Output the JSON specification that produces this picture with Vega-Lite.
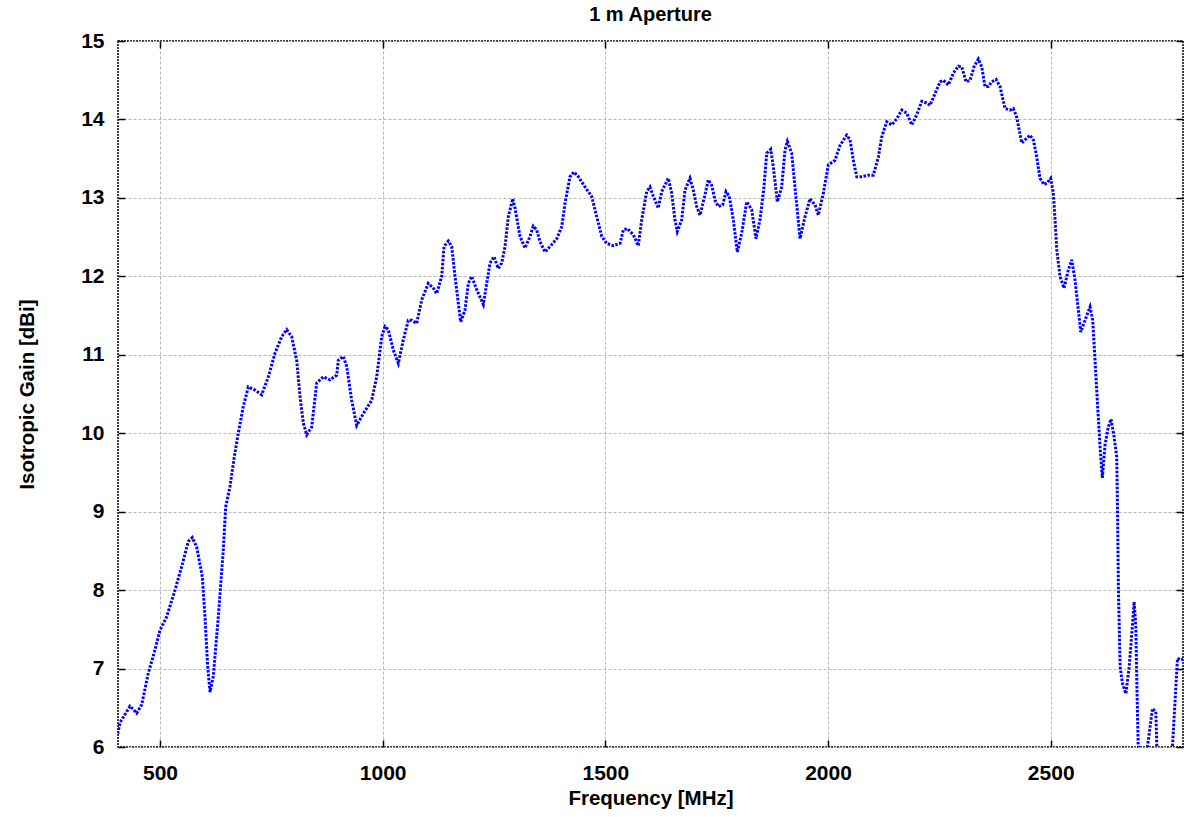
{
  "$schema": "https://vega.github.io/schema/vega-lite/v6.json",
  "width": 1065,
  "height": 706,
  "autosize": "none",
  "padding": {"left": 118, "top": 41, "right": 1, "bottom": 70},
  "background": "white",
  "title": {"text": "1 m Aperture", "font": "Liberation Sans", "fontSize": 20, "fontWeight": "bold", "color": "black", "offset": 5, "anchor": "middle", "frame": "group"},
  "config": {
    "view": {"stroke": "black", "strokeWidth": 1.5, "strokeDash": [2, 1]},
    "axis": {
      "labelFont": "Liberation Sans", "labelFontSize": 21, "labelFontWeight": "bold", "labelColor": "black",
      "titleFont": "Liberation Sans", "titleFontSize": 20.5, "titleFontWeight": "bold", "titleColor": "black",
      "domain": false, "tickColor": "black", "tickSize": -7, "tickWidth": 1.5,
      "gridColor": "#b8b8b8", "gridDash": [3, 2], "gridWidth": 1
    }
  },
  "data": {"values": [
    {"f": 405, "g": 6.17}, {"f": 410.2, "g": 6.31}, {"f": 432.6, "g": 6.52}, {"f": 440.0, "g": 6.48}, {"f": 447.7, "g": 6.43},
    {"f": 458.9, "g": 6.54}, {"f": 473.7, "g": 6.94}, {"f": 488.8, "g": 7.24}, {"f": 500, "g": 7.49}, {"f": 515.0, "g": 7.66},
    {"f": 533.7, "g": 8.0}, {"f": 548.7, "g": 8.30}, {"f": 563.5, "g": 8.62}, {"f": 572.5, "g": 8.67}, {"f": 582.4, "g": 8.55},
    {"f": 595.0, "g": 8.17}, {"f": 601.0, "g": 7.66}, {"f": 607.1, "g": 7.02}, {"f": 612.3, "g": 6.70}, {"f": 619.7, "g": 6.90},
    {"f": 630.9, "g": 7.66}, {"f": 642.1, "g": 8.51}, {"f": 647.5, "g": 9.06}, {"f": 657.2, "g": 9.32}, {"f": 666.8, "g": 9.70},
    {"f": 675.8, "g": 10.0}, {"f": 687.0, "g": 10.34}, {"f": 698.3, "g": 10.59}, {"f": 713.3, "g": 10.55}, {"f": 728.4, "g": 10.49},
    {"f": 743.2, "g": 10.72}, {"f": 758.2, "g": 11.02}, {"f": 773.3, "g": 11.23}, {"f": 784.5, "g": 11.32}, {"f": 795.7, "g": 11.23},
    {"f": 807.0, "g": 10.93}, {"f": 814.4, "g": 10.47}, {"f": 821.8, "g": 10.13}, {"f": 829.4, "g": 9.98}, {"f": 840.6, "g": 10.08},
    {"f": 851.9, "g": 10.64}, {"f": 866.7, "g": 10.72}, {"f": 881.7, "g": 10.68}, {"f": 896.8, "g": 10.74}, {"f": 900.4, "g": 10.93},
    {"f": 911.6, "g": 10.98}, {"f": 919.2, "g": 10.85}, {"f": 930.4, "g": 10.42}, {"f": 941.7, "g": 10.10}, {"f": 956.5, "g": 10.25},
    {"f": 975.4, "g": 10.42}, {"f": 986.6, "g": 10.72}, {"f": 997.8, "g": 11.23}, {"f": 1005.2, "g": 11.36}, {"f": 1012.6, "g": 11.32},
    {"f": 1023.9, "g": 11.06}, {"f": 1035.1, "g": 10.89}, {"f": 1046.3, "g": 11.19}, {"f": 1057.5, "g": 11.44}, {"f": 1065.2, "g": 11.44},
    {"f": 1076.4, "g": 11.40}, {"f": 1087.6, "g": 11.70}, {"f": 1102.4, "g": 11.91}, {"f": 1113.7, "g": 11.85}, {"f": 1121.3, "g": 11.78},
    {"f": 1132.5, "g": 12.0}, {"f": 1137.7, "g": 12.38}, {"f": 1147.3, "g": 12.45}, {"f": 1155.0, "g": 12.38}, {"f": 1162.4, "g": 12.0},
    {"f": 1169.8, "g": 11.66}, {"f": 1175.2, "g": 11.42}, {"f": 1184.8, "g": 11.57}, {"f": 1192.3, "g": 11.91}, {"f": 1199.9, "g": 12.0},
    {"f": 1211.1, "g": 11.83}, {"f": 1226.0, "g": 11.64}, {"f": 1233.6, "g": 11.91}, {"f": 1241.0, "g": 12.17}, {"f": 1250.0, "g": 12.25},
    {"f": 1259.6, "g": 12.10}, {"f": 1267.3, "g": 12.17}, {"f": 1274.7, "g": 12.38}, {"f": 1282.1, "g": 12.76}, {"f": 1292.0, "g": 12.99},
    {"f": 1297.1, "g": 12.87}, {"f": 1308.3, "g": 12.51}, {"f": 1319.6, "g": 12.36}, {"f": 1330.8, "g": 12.51}, {"f": 1338.2, "g": 12.64},
    {"f": 1345.9, "g": 12.59}, {"f": 1353.3, "g": 12.44}, {"f": 1364.5, "g": 12.31}, {"f": 1375.7, "g": 12.38}, {"f": 1390.8, "g": 12.48},
    {"f": 1402.0, "g": 12.63}, {"f": 1409.4, "g": 12.93}, {"f": 1420.6, "g": 13.27}, {"f": 1429.6, "g": 13.33}, {"f": 1439.3, "g": 13.27},
    {"f": 1454.3, "g": 13.14}, {"f": 1469.3, "g": 13.02}, {"f": 1480.6, "g": 12.76}, {"f": 1491.8, "g": 12.51}, {"f": 1503.0, "g": 12.42},
    {"f": 1517.8, "g": 12.39}, {"f": 1532.9, "g": 12.42}, {"f": 1540.3, "g": 12.59}, {"f": 1549.3, "g": 12.61}, {"f": 1562.8, "g": 12.53},
    {"f": 1574.0, "g": 12.39}, {"f": 1581.6, "g": 12.72}, {"f": 1592.8, "g": 13.08}, {"f": 1600.2, "g": 13.14}, {"f": 1607.7, "g": 13.02},
    {"f": 1618.9, "g": 12.87}, {"f": 1626.5, "g": 13.08}, {"f": 1641.3, "g": 13.25}, {"f": 1648.9, "g": 13.06}, {"f": 1656.3, "g": 12.72},
    {"f": 1661.5, "g": 12.57}, {"f": 1671.4, "g": 12.72}, {"f": 1678.8, "g": 13.10}, {"f": 1690.0, "g": 13.25}, {"f": 1697.5, "g": 13.10},
    {"f": 1705.1, "g": 12.89}, {"f": 1712.5, "g": 12.78}, {"f": 1723.7, "g": 13.04}, {"f": 1731.1, "g": 13.23}, {"f": 1738.8, "g": 13.16},
    {"f": 1746.2, "g": 12.97}, {"f": 1753.6, "g": 12.89}, {"f": 1763.5, "g": 12.91}, {"f": 1770.9, "g": 13.08}, {"f": 1778.3, "g": 13.02},
    {"f": 1787.3, "g": 12.72}, {"f": 1796.3, "g": 12.31}, {"f": 1806.1, "g": 12.55}, {"f": 1817.4, "g": 12.95}, {"f": 1828.6, "g": 12.85},
    {"f": 1838.2, "g": 12.48}, {"f": 1847.2, "g": 12.72}, {"f": 1856.2, "g": 13.14}, {"f": 1862.3, "g": 13.57}, {"f": 1871.3, "g": 13.62},
    {"f": 1877.1, "g": 13.40}, {"f": 1886.1, "g": 12.95}, {"f": 1896.0, "g": 13.14}, {"f": 1903.4, "g": 13.61}, {"f": 1908.6, "g": 13.72},
    {"f": 1918.4, "g": 13.57}, {"f": 1925.8, "g": 13.14}, {"f": 1937.1, "g": 12.48}, {"f": 1948.3, "g": 12.76}, {"f": 1959.5, "g": 12.99},
    {"f": 1970.8, "g": 12.91}, {"f": 1978.2, "g": 12.78}, {"f": 1989.4, "g": 13.06}, {"f": 2000.6, "g": 13.42}, {"f": 2015.7, "g": 13.48},
    {"f": 2026.9, "g": 13.67}, {"f": 2042.0, "g": 13.80}, {"f": 2049.4, "g": 13.74}, {"f": 2056.8, "g": 13.48}, {"f": 2064.5, "g": 13.27},
    {"f": 2075.7, "g": 13.27}, {"f": 2090.5, "g": 13.29}, {"f": 2101.7, "g": 13.29}, {"f": 2113.0, "g": 13.52}, {"f": 2120.6, "g": 13.78},
    {"f": 2131.8, "g": 13.97}, {"f": 2143.1, "g": 13.93}, {"f": 2154.3, "g": 14.01}, {"f": 2165.5, "g": 14.12}, {"f": 2176.7, "g": 14.08},
    {"f": 2188.0, "g": 13.93}, {"f": 2199.2, "g": 14.06}, {"f": 2210.4, "g": 14.23}, {"f": 2221.6, "g": 14.21}, {"f": 2229.0, "g": 14.18},
    {"f": 2240.3, "g": 14.33}, {"f": 2251.5, "g": 14.48}, {"f": 2258.9, "g": 14.50}, {"f": 2270.1, "g": 14.44}, {"f": 2281.4, "g": 14.59},
    {"f": 2292.6, "g": 14.68}, {"f": 2300.2, "g": 14.67}, {"f": 2309.9, "g": 14.48}, {"f": 2318.9, "g": 14.50}, {"f": 2327.8, "g": 14.67},
    {"f": 2337.5, "g": 14.77}, {"f": 2345.1, "g": 14.67}, {"f": 2352.5, "g": 14.42}, {"f": 2359.9, "g": 14.42}, {"f": 2367.6, "g": 14.48},
    {"f": 2377.2, "g": 14.51}, {"f": 2386.1, "g": 14.42}, {"f": 2397.4, "g": 14.14}, {"f": 2408.6, "g": 14.12}, {"f": 2416.0, "g": 14.14},
    {"f": 2423.7, "g": 14.03}, {"f": 2434.9, "g": 13.70}, {"f": 2442.3, "g": 13.74}, {"f": 2453.5, "g": 13.80}, {"f": 2461.0, "g": 13.74},
    {"f": 2468.6, "g": 13.52}, {"f": 2475.9, "g": 13.25}, {"f": 2484.9, "g": 13.17}, {"f": 2491.6, "g": 13.19}, {"f": 2500, "g": 13.25},
    {"f": 2505.8, "g": 13.06}, {"f": 2509.7, "g": 12.72}, {"f": 2513.5, "g": 12.34}, {"f": 2520.9, "g": 12.0}, {"f": 2529.9, "g": 11.85},
    {"f": 2539.5, "g": 12.08}, {"f": 2547.2, "g": 12.21}, {"f": 2554.6, "g": 11.95}, {"f": 2562.0, "g": 11.57}, {"f": 2567.4, "g": 11.29},
    {"f": 2577.0, "g": 11.44}, {"f": 2588.3, "g": 11.61}, {"f": 2594.3, "g": 11.44}, {"f": 2599.5, "g": 10.93}, {"f": 2604.6, "g": 10.42},
    {"f": 2610.7, "g": 9.83}, {"f": 2615.9, "g": 9.43}, {"f": 2621.9, "g": 9.85}, {"f": 2629.3, "g": 10.08}, {"f": 2635.4, "g": 10.18},
    {"f": 2642.1, "g": 9.96}, {"f": 2648.2, "g": 9.70}, {"f": 2650.3, "g": 8.9}, {"f": 2652.0, "g": 8.0}, {"f": 2655.9, "g": 7.02},
    {"f": 2661.0, "g": 6.81}, {"f": 2668.7, "g": 6.68}, {"f": 2676.1, "g": 7.02}, {"f": 2682.1, "g": 7.45}, {"f": 2687.3, "g": 7.85},
    {"f": 2691.1, "g": 7.53}, {"f": 2693.4, "g": 6.81}, {"f": 2696.3, "g": 6.04}, {"f": 2705.3, "g": 5.6}, {"f": 2717.2, "g": 6.0},
    {"f": 2728.4, "g": 6.49}, {"f": 2736.0, "g": 6.45}, {"f": 2738.3, "g": 6.0}, {"f": 2754.7, "g": 5.5}, {"f": 2773.3, "g": 6.0},
    {"f": 2784.6, "g": 7.13}, {"f": 2792.2, "g": 7.11}, {"f": 2797.3, "g": 7.12}
  ]},
  "layer": [
    {
      "mark": {"type": "line", "color": "#0000ff", "strokeWidth": 3, "strokeDash": [2.5, 1.5], "clip": true},
      "encoding": {
        "x": {"field": "f", "type": "quantitative", "scale": {"domain": [405.7, 2797], "nice": false, "zero": false},
              "axis": {"title": "Frequency [MHz]", "format": "d", "values": [500, 1000, 1500, 2000, 2500], "labelPadding": 22, "titlePadding": 5}},
        "y": {"field": "g", "type": "quantitative", "scale": {"domain": [6, 15], "nice": false, "zero": false},
              "axis": {"title": "Isotropic Gain [dBi]", "format": "d", "values": [6, 7, 8, 9, 10, 11, 12, 13, 14, 15], "labelPadding": 21, "titlePadding": 43}}
      }
    },
    {
      "mark": {"type": "line", "opacity": 0},
      "encoding": {
        "x": {"field": "f", "type": "quantitative", "axis": {"orient": "top", "labels": false, "grid": false, "title": null, "values": [500, 1000, 1500, 2000, 2500]}},
        "y": {"field": "g", "type": "quantitative", "axis": {"orient": "right", "labels": false, "grid": false, "title": null, "values": [6, 7, 8, 9, 10, 11, 12, 13, 14, 15]}}
      }
    }
  ],
  "resolve": {"axis": {"x": "independent", "y": "independent"}}
}
